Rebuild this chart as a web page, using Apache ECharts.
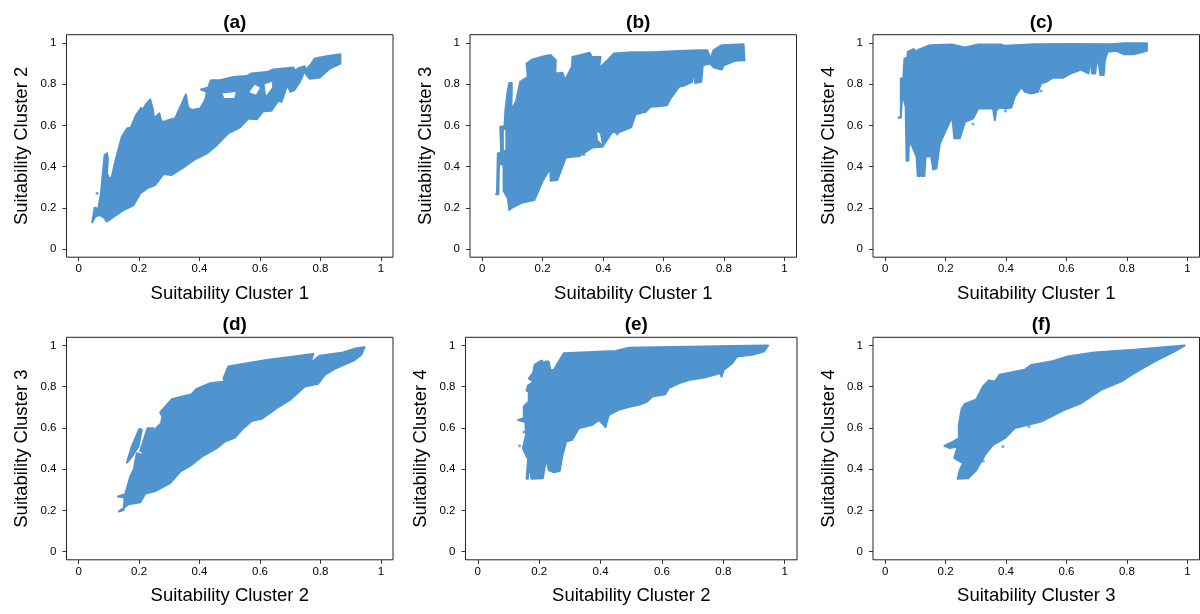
<!DOCTYPE html>
<html><head><meta charset="utf-8">
<style>html,body{margin:0;padding:0;background:#fff}#c{width:1200px;height:614px}</style>
<script src="https://cdn.jsdelivr.net/npm/echarts@6/dist/echarts.min.js"></script>
</head><body><div id="c"></div>
<script>
const tickValues=[0,0.2,0.4,0.6,0.8,1];
const panelTitles=["(a)","(b)","(c)","(d)","(e)","(f)"];
const xNames=["Suitability Cluster 1","Suitability Cluster 1","Suitability Cluster 1","Suitability Cluster 2","Suitability Cluster 2","Suitability Cluster 3"];
const yNames=["Suitability Cluster 2","Suitability Cluster 3","Suitability Cluster 4","Suitability Cluster 3","Suitability Cluster 4","Suitability Cluster 4"];

const cloudA=[[.045,.129],[.053,.200],[.057,.200],[.063,.181],[.074,.270],[.079,.351],[.086,.456],[.094,.464],[.097,.440],[.094,.367],[.102,.338],[.110,.351],[.121,.423],[.143,.545],[.160,.585],[.173,.590],[.190,.650],[.207,.685],[.212,.674],[.223,.703],[.237,.726],[.245,.682],[.250,.633],[.267,.658],[.273,.622],[.281,.617],[.303,.629],[.319,.633],[.355,.750],[.362,.687],[.374,.674],[.402,.682],[.415,.714],[.420,.730],[.424,.763],[.407,.774],[.429,.784],[.437,.819],[.468,.819],[.512,.835],[.556,.839],[.572,.852],[.627,.860],[.644,.871],[.710,.881],[.716,.865],[.726,.876],[.748,.887],[.751,.868],[.770,.900],[.781,.924],[.820,.936],[.866,.945],[.866,.900],[.831,.876],[.798,.832],[.765,.826],[.754,.844],[.748,.865],[.732,.811],[.715,.774],[.701,.763],[.690,.795],[.671,.714],[.660,.719],[.638,.671],[.611,.669],[.589,.629],[.561,.633],[.534,.590],[.495,.561],[.457,.504],[.424,.464],[.380,.431],[.347,.396],[.308,.359],[.281,.364],[.253,.310],[.226,.294],[.204,.270],[.182,.213],[.149,.189],[.116,.157],[.094,.133],[.088,.149],[.069,.165],[.055,.157]];
const gapsA=[[[.476,.755],[.520,.762],[.515,.733],[.482,.733]],[[.565,.762],[.583,.797],[.600,.782],[.587,.750],[.572,.756]],[[.615,.798],[.640,.812],[.640,.782],[.620,.745]]];
const straysA=[[.061,.270],[.090,.141],[.407,.774]];

const cloudB=[[.046,.265],[.049,.270],[.052,.464],[.063,.469],[.060,.593],[.074,.596],[.077,.674],[.085,.771],[.090,.806],[.098,.806],[.098,.739],[.096,.674],[.112,.714],[.126,.811],[.151,.835],[.147,.900],[.167,.920],[.205,.936],[.227,.941],[.244,.916],[.242,.852],[.266,.855],[.274,.819],[.297,.884],[.299,.932],[.356,.952],[.363,.932],[.392,.932],[.387,.876],[.420,.924],[.436,.949],[.497,.955],[.563,.955],[.634,.960],[.716,.965],[.745,.965],[.755,.924],[.766,.965],[.793,.989],[.865,.994],[.868,.916],[.837,.913],[.799,.892],[.793,.871],[.766,.881],[.755,.900],[.730,.892],[.725,.811],[.705,.806],[.698,.884],[.695,.811],[.672,.795],[.651,.787],[.623,.730],[.612,.698],[.585,.693],[.557,.690],[.541,.666],[.508,.654],[.493,.590],[.447,.564],[.431,.569],[.398,.496],[.365,.493],[.321,.451],[.277,.444],[.249,.335],[.227,.331],[.225,.391],[.202,.335],[.173,.238],[.134,.226],[.090,.194],[.085,.246],[.071,.283],[.071,.407],[.056,.415],[.054,.265]];
const gapsB=[[[.381,.570],[.390,.558],[.396,.510],[.383,.530]],[[.072,.577],[.077,.577],[.077,.480],[.072,.480]]];
const straysB=[[.090,.192],[.337,.458],[.447,.558]];

const cloudC=[[.044,.637],[.052,.642],[.052,.827],[.060,.827],[.064,.924],[.074,.929],[.075,.957],[.093,.970],[.099,.965],[.099,.924],[.107,.965],[.148,.989],[.220,.992],[.264,.978],[.308,.992],[.385,.992],[.396,.986],[.495,.994],[.626,.995],[.747,.994],[.791,.998],[.866,.998],[.866,.962],[.824,.945],[.791,.945],[.764,.962],[.736,.957],[.727,.916],[.723,.844],[.712,.844],[.703,.941],[.695,.852],[.684,.852],[.679,.936],[.673,.852],[.648,.871],[.615,.852],[.588,.831],[.555,.831],[.533,.811],[.516,.803],[.505,.763],[.484,.755],[.462,.763],[.451,.787],[.429,.739],[.418,.687],[.398,.682],[.379,.687],[.368,.674],[.363,.625],[.357,.682],[.308,.682],[.291,.633],[.264,.617],[.247,.537],[.229,.537],[.222,.642],[.209,.601],[.181,.512],[.170,.391],[.159,.386],[.152,.451],[.134,.448],[.130,.354],[.121,.354],[.118,.415],[.115,.354],[.108,.354],[.104,.448],[.088,.504],[.079,.512],[.077,.428],[.071,.428],[.068,.690],[.057,.755],[.052,.637]];
const straysC=[[.398,.670],[.516,.767],[.291,.607]];

const cloudD=[[.133,.194],[.149,.202],[.151,.243],[.151,.264],[.130,.267],[.154,.278],[.171,.364],[.187,.413],[.215,.485],[.248,.582],[.259,.604],[.273,.623],[.277,.655],[.270,.675],[.308,.739],[.374,.764],[.391,.790],[.435,.817],[.484,.825],[.479,.841],[.495,.898],[.622,.930],[.732,.951],[.776,.959],[.767,.914],[.798,.951],[.875,.966],[.919,.987],[.946,.992],[.935,.955],[.913,.930],[.847,.887],[.814,.858],[.792,.814],[.748,.801],[.699,.736],[.655,.696],[.605,.644],[.572,.634],[.545,.599],[.517,.553],[.484,.534],[.457,.502],[.413,.466],[.374,.421],[.336,.388],[.303,.332],[.253,.294],[.220,.280],[.204,.239],[.165,.230]];
const islandD1=[[.160,.432],[.176,.510],[.201,.595],[.209,.591],[.198,.510],[.176,.461]];
const islandD2=[[.204,.489],[.228,.599],[.248,.599],[.234,.550],[.209,.485]];
const islandD3=[[.184,.413],[.193,.477],[.204,.472],[.195,.421]];

const cloudE=[[.159,.353],[.164,.453],[.159,.461],[.147,.502],[.157,.566],[.155,.628],[.131,.639],[.150,.647],[.150,.704],[.166,.728],[.166,.777],[.159,.780],[.163,.804],[.182,.825],[.166,.841],[.180,.866],[.185,.906],[.207,.927],[.212,.922],[.207,.870],[.220,.922],[.231,.922],[.237,.879],[.248,.882],[.280,.963],[.449,.974],[.492,.989],[.633,.993],[.829,.998],[.946,1.0],[.932,.971],[.894,.955],[.845,.947],[.829,.914],[.801,.882],[.794,.849],[.791,.866],[.742,.846],[.687,.833],[.655,.817],[.622,.793],[.611,.764],[.568,.752],[.552,.728],[.525,.712],[.497,.704],[.459,.688],[.427,.663],[.416,.607],[.394,.639],[.373,.615],[.329,.599],[.307,.542],[.288,.534],[.275,.461],[.267,.392],[.248,.385],[.231,.396],[.223,.453],[.212,.356],[.175,.353],[.168,.421],[.163,.353]];
const straysE=[[.136,.513],[.150,.580],[.416,.607]];

const cloudF=[[.240,.353],[.247,.396],[.258,.429],[.233,.450],[.229,.456],[.240,.510],[.214,.502],[.196,.513],[.225,.534],[.244,.550],[.244,.615],[.253,.692],[.264,.717],[.302,.739],[.324,.801],[.343,.830],[.363,.825],[.379,.858],[.462,.882],[.484,.906],[.549,.922],[.604,.947],[.692,.966],[.824,.979],[.991,1.0],[.956,.971],[.890,.922],[.824,.866],[.780,.825],[.714,.785],[.648,.720],[.593,.688],[.516,.631],[.473,.615],[.429,.599],[.396,.550],[.357,.518],[.330,.469],[.302,.396],[.275,.356]];
const straysF=[[.390,.510],[.476,.607],[.325,.440]];

const panelClouds=[[cloudA],[cloudB],[cloudC],[cloudD,islandD1,islandD2,islandD3],[cloudE],[cloudF]];
const panelGaps=[gapsA,gapsB,[],[],[],[]];
const panelStrays=[straysA,straysB,straysC,[],straysE,straysF];

const BLUE="#5094CF", FONT='"Liberation Sans",Arial,sans-serif';
const frames=[[66.5,34.7,326.5],[470,34.7,326.5],[873,34.7,326.5],[66.5,337.3,326.5],[465.5,337.3,331.5],[873,337.3,326.5]];
const H=222.5;

function polygonSeries(points,gi,color,stroke,z){
  return {type:"custom",xAxisIndex:gi,yAxisIndex:gi,coordinateSystem:"cartesian2d",z,silent:true,clip:true,
    data:points,encode:{x:0,y:1},
    renderItem:(p,api)=>p.dataIndex!==0?null:{type:"polygon",shape:{points:points.map(q=>api.coord(q))},
      style:{fill:color,stroke:color,lineWidth:stroke,lineJoin:"round"}}};
}
const grid=[],xAxis=[],yAxis=[],title=[],series=[];
frames.forEach((f,i)=>{
  grid.push({left:f[0],top:f[1],width:f[2],height:H,show:true,borderColor:"#222",borderWidth:1,backgroundColor:"#fff"});
  title.push({text:panelTitles[i],left:f[0]+f[2]/2,top:f[1]-(i<3?26:27),textAlign:"center",
    textStyle:{fontFamily:FONT,fontWeight:"bold",fontSize:19,color:"#000"}});
  const ax=(name,gap,margin)=>({type:"value",gridIndex:i,min:-0.04,max:1.04,name,nameLocation:"middle",nameGap:gap,nameMoveOverlap:false,
    nameTextStyle:{fontFamily:FONT,fontSize:18.5,color:"#000"},
    splitLine:{show:false},axisLine:{show:false,onZero:false},
    axisTick:{show:true,length:4,customValues:tickValues,lineStyle:{color:"#333",width:1}},
    axisLabel:{show:true,margin,customValues:tickValues,fontFamily:FONT,fontSize:11.5,color:"#000",hideOverlap:false,showMinLabel:true,showMaxLabel:true}});
  xAxis.push(ax(xNames[i],27,6));
  yAxis.push(ax(yNames[i],35,10));
  panelClouds[i].forEach(c=>series.push(polygonSeries(c,i,BLUE,2,2)));
  panelGaps[i].forEach(c=>series.push(polygonSeries(c,i,"#fff",0,3)));
  if(panelStrays[i].length) series.push({type:"scatter",xAxisIndex:i,yAxisIndex:i,data:panelStrays[i],symbolSize:3,itemStyle:{color:BLUE},z:4,silent:true});
});
const chart=echarts.init(document.getElementById("c"),null,{renderer:"canvas"});
chart.setOption({animation:false,backgroundColor:"#fff",grid,xAxis,yAxis,title,series});
</script></body></html>
